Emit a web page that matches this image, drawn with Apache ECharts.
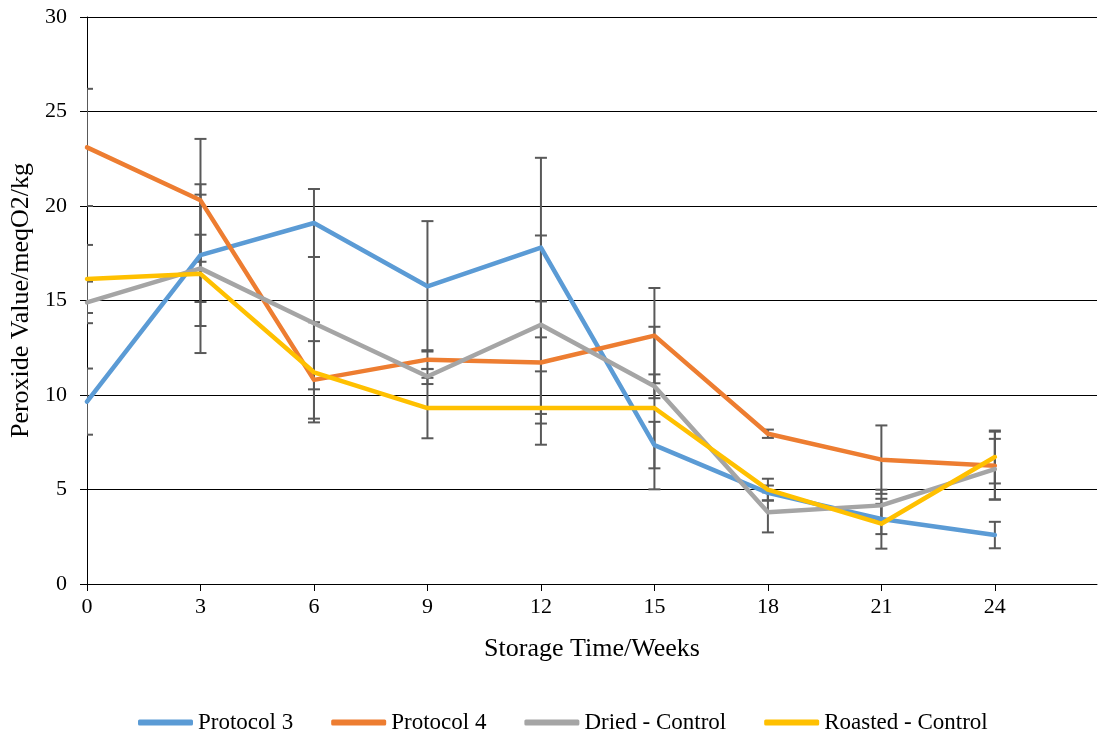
<!DOCTYPE html>
<html>
<head>
<meta charset="utf-8">
<script src="https://cdn.jsdelivr.net/npm/echarts@6/dist/echarts.min.js"></script>
<style>html,body{margin:0;padding:0;background:#fff}#c{width:1099px;height:732px}</style>
</head>
<body>
<div id="c"></div>
<script>
const weeks = [0, 3, 6, 9, 12, 15, 18, 21, 24];
const seriesNames = ['Protocol 3', 'Protocol 4', 'Dried - Control', 'Roasted - Control'];
const protocol3 = [9.65, 17.4, 19.1, 15.75, 17.8, 7.35, 4.82, 3.44, 2.59];
const protocol3Err = [1.75, 3.75, 1.8, 3.45, 4.75, 1.23, 0.39, 0.8, 0.7];
const protocol4 = [23.1, 20.3, 10.8, 11.87, 11.72, 13.14, 7.95, 6.58, 6.26];
const protocol4Err = [3.1, 3.25, 2.05, 0.5, 3.23, 2.52, 0.22, 1.81, 1.8];
const driedControl = [14.9, 16.7, 13.8, 10.98, 13.72, 10.46, 3.79, 4.16, 6.08];
const driedControlErr = [1.1, 1.78, 3.5, 0.4, 4.72, 0.63, 1.06, 0.83, 1.6];
const roastedControl = [16.14, 16.41, 11.2, 9.31, 9.31, 9.31, 4.99, 3.19, 6.72];
const roastedControlErr = [1.8, 4.19, 2.65, 1.6, 1.94, 4.3, 0.58, 1.32, 1.4];
const yTicks = [0, 5, 10, 15, 20, 25, 30];

const colors = ['#5B9BD5', '#ED7D31', '#A5A5A5', '#FFC000'];
const values = [protocol3, protocol4, driedControl, roastedControl];
const errors = [protocol3Err, protocol4Err, driedControlErr, roastedControlErr];
const font = '"Liberation Serif", "Times New Roman", serif';

const series = [];
values.forEach((vals, s) => {
  series.push({
    type: 'custom',
    name: seriesNames[s] + ' err',
    clip: true,
    z: 1,
    silent: true,
    encode: { x: 0, y: [1, 2] },
    data: weeks.map((w, i) => [w, vals[i] - errors[s][i], vals[i] + errors[s][i]]),
    renderItem: function (params, api) {
      const x = api.value(0);
      const lo = api.coord([x, api.value(1)]);
      const hi = api.coord([x, api.value(2)]);
      const hw = 6;
      const st = { stroke: '#595959', lineWidth: 2 };
      return {
        type: 'group',
        children: [
          { type: 'line', shape: { x1: hi[0], y1: hi[1], x2: lo[0], y2: lo[1] }, style: st },
          { type: 'line', shape: { x1: hi[0] - hw, y1: hi[1], x2: hi[0] + hw, y2: hi[1] }, style: st },
          { type: 'line', shape: { x1: lo[0] - hw, y1: lo[1], x2: lo[0] + hw, y2: lo[1] }, style: st }
        ]
      };
    }
  });
});
values.forEach((vals, s) => {
  series.push({
    type: 'line',
    name: seriesNames[s],
    z: 3,
    symbol: 'none',
    showSymbol: false,
    color: colors[s],
    lineStyle: { width: 4.5, color: colors[s], cap: 'round', join: 'round' },
    data: weeks.map((w, i) => [w, vals[i]])
  });
});

const chart = echarts.init(document.getElementById('c'), null, { renderer: 'canvas' });
chart.setOption({
  animation: false,
  backgroundColor: '#fff',
  textStyle: { fontFamily: font, color: '#000' },
  grid: { left: 87, right: 2, top: 17, bottom: 148, containLabel: false },
  legend: {
    data: seriesNames.map(n => ({ name: n, icon: 'roundRect' })),
    top: 706,
    left: 133,
    itemWidth: 55,
    itemHeight: 6,
    itemGap: 38,
    textStyle: { fontFamily: font, fontSize: 23, color: '#000' }
  },
  xAxis: {
    type: 'value',
    min: 0,
    max: 26.7,
    interval: 3,
    name: 'Storage Time/Weeks',
    nameLocation: 'middle',
    nameGap: 52,
    nameTextStyle: { fontFamily: font, fontSize: 26, color: '#000' },
    axisLine: { show: true, lineStyle: { color: '#000', width: 1 } },
    axisTick: { show: true, length: 7, customValues: weeks, lineStyle: { color: '#000' } },
    axisLabel: { fontFamily: font, fontSize: 22, color: '#000', margin: 12, customValues: weeks,
      formatter: v => (weeks.indexOf(v) >= 0 ? String(v) : '') },
    splitLine: { show: false }
  },
  yAxis: {
    type: 'value',
    min: 0,
    max: 30,
    interval: 5,
    name: 'Peroxide Value/meqO2/kg',
    nameLocation: 'middle',
    nameGap: 50,
    nameTextStyle: { fontFamily: font, fontSize: 26, color: '#000' },
    axisLine: { show: true, lineStyle: { color: '#000', width: 1 } },
    axisTick: { show: true, length: 7, lineStyle: { color: '#000' } },
    axisLabel: { fontFamily: font, fontSize: 22, color: '#000', margin: 20,
      formatter: v => (yTicks.indexOf(v) >= 0 ? String(v) : '') },
    splitLine: { show: true, lineStyle: { color: '#000', width: 1 } }
  },
  series: series
});
</script>
</body>
</html>
